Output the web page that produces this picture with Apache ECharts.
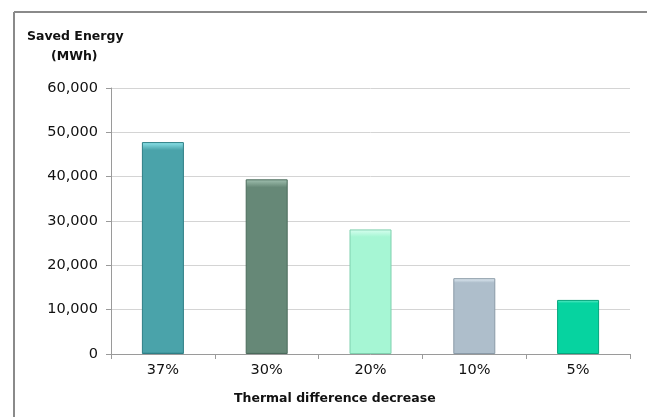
<!DOCTYPE html>
<html>
<head>
<meta charset="utf-8">
<script src="https://cdn.jsdelivr.net/npm/echarts@6/dist/echarts.min.js"></script>
<style>html,body{margin:0;padding:0;background:#fff}#c{width:647px;height:417px}</style>
</head>
<body>
<div id="c"></div>
<script>
var categories = ['37%', '30%', '20%', '10%', '5%'];
var savedEnergy = [47800, 39400, 28100, 17100, 12200];
var barColors = ['#4AA3AA', '#668877', '#A6F6D4', '#AEBECB', '#06D3A0'];
var barEdges = ['#2E7F86', '#4A6A5B', '#7FD0AE', '#8A9AA7', '#04A57C'];
var barTops = ['#8FE6EC', '#A3C2B2', '#D8FFF0', '#E6F0F8', '#6AF0CC'];
var yTicks = [0, 10000, 20000, 30000, 40000, 50000, 60000];

var chart = echarts.init(document.getElementById('c'));
var font = 'DejaVu Sans';
chart.setOption({
  animation: false,
  grid: { left: 111, right: 17, top: 88, bottom: 63 },
  xAxis: {
    type: 'category',
    data: categories,
    axisLine: { lineStyle: { color: '#9a9a9a', width: 1 } },
    axisTick: { show: true, length: 5, lineStyle: { color: '#9a9a9a' } },
    axisLabel: { color: '#111', fontFamily: font, fontSize: 14.5, margin: 9 }
  },
  yAxis: {
    type: 'value',
    min: yTicks[0],
    max: yTicks[yTicks.length - 1],
    interval: 10000,
    axisLine: { show: true, lineStyle: { color: '#9a9a9a', width: 1 } },
    axisTick: { show: true, length: 5, lineStyle: { color: '#9a9a9a' } },
    splitLine: { lineStyle: { color: '#d4d4d4', width: 1 } },
    axisLabel: {
      color: '#111', fontFamily: font, fontSize: 14.5, margin: 13,
      formatter: function (v) { return v.toLocaleString('en-US'); }
    }
  },
  series: [{
    type: 'bar',
    barWidth: 42,
    data: savedEnergy.map(function (v, i) {
      return {
        value: v,
        itemStyle: {
          color: {
            type: 'linear', x: 0, y: 0, x2: 0, y2: 1,
            colorStops: [
              { offset: 0, color: barTops[i] },
              { offset: Math.min(0.06, 1800 / v), color: barColors[i] },
              { offset: 0.99, color: barColors[i] },
              { offset: 1, color: barEdges[i] }
            ]
          },
          borderColor: barEdges[i],
          borderWidth: 1
        }
      };
    })
  }],
  graphic: [
    { type: 'line', shape: { x1: 14, y1: 12, x2: 647, y2: 12 }, style: { stroke: '#8a8a8a', lineWidth: 2 } },
    { type: 'line', shape: { x1: 14, y1: 12, x2: 14, y2: 417 }, style: { stroke: '#8a8a8a', lineWidth: 2 } },
    { type: 'text', left: 27, top: 30, style: { text: 'Saved Energy', font: 'bold 12.5px ' + font, fill: '#111' } },
    { type: 'text', left: 51, top: 50, style: { text: '(MWh)', font: 'bold 12.5px ' + font, fill: '#111' } },
    { type: 'text', left: 234, top: 392, style: { text: 'Thermal difference decrease', font: 'bold 12.5px ' + font, fill: '#111' } }
  ]
});
</script>
</body>
</html>
